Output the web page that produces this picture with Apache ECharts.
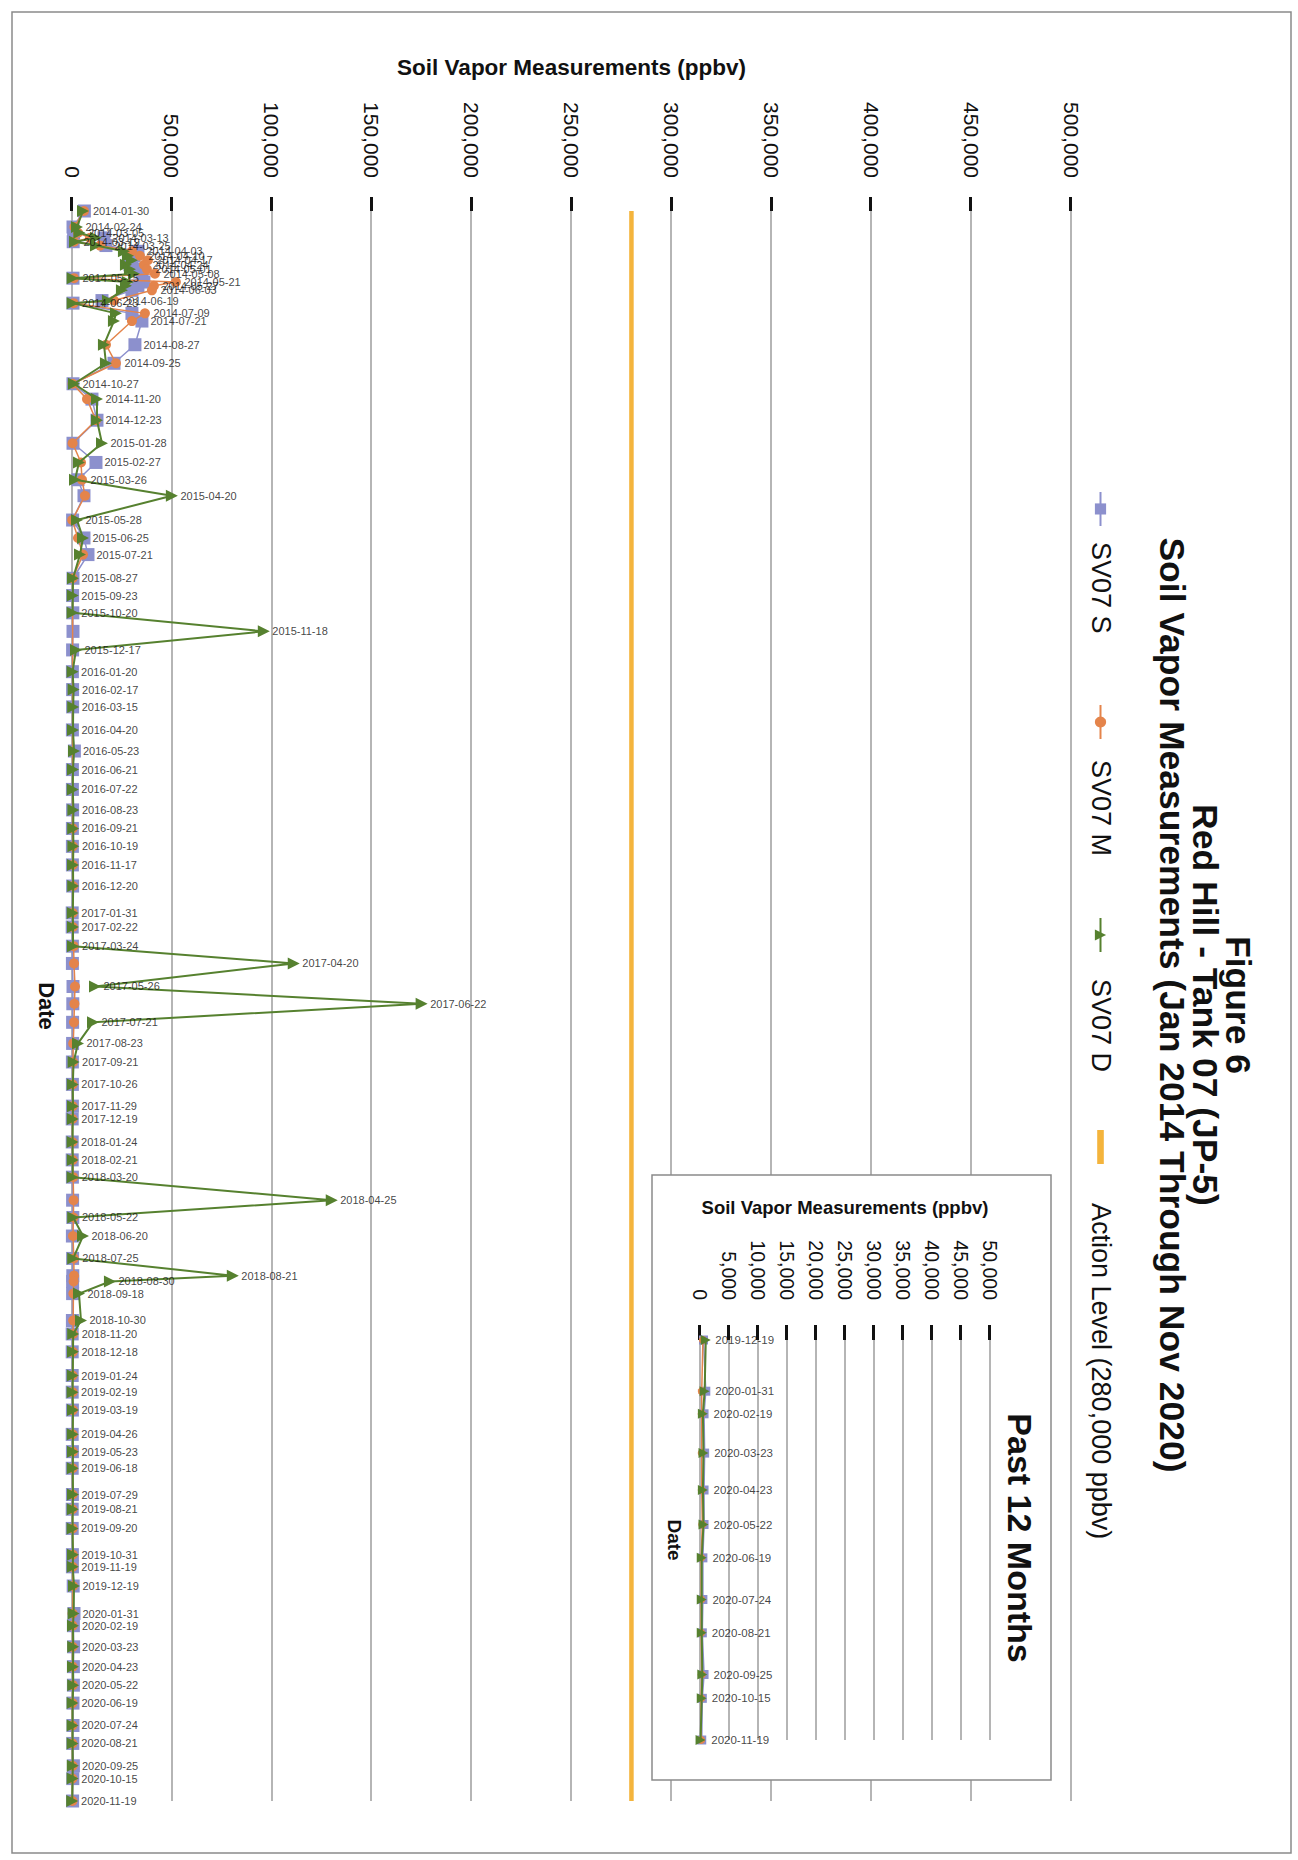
<!DOCTYPE html>
<html>
<head>
<meta charset="utf-8">
<script src="https://cdn.jsdelivr.net/npm/echarts@6/dist/echarts.min.js"></script>
<style>
html,body{margin:0;padding:0;background:#fff;overflow:hidden;width:1298px;height:1860px;}
#chart{position:absolute;left:0;top:0;width:1860px;height:1298px;transform-origin:0 0;transform:translate(1298px,0) rotate(90deg);}
</style>
</head>
<body>
<div id="chart"></div>
<script>
// ---- data (ppbv) ----
const dates = [
  '2014-01-30','2014-02-24','2014-03-05','2014-03-13','2014-03-19','2014-03-25','2014-04-03','2014-04-10','2014-04-17','2014-04-24','2014-05-01','2014-05-08','2014-05-15','2014-05-21','2014-05-27','2014-06-03','2014-06-19','2014-06-23','2014-07-09','2014-07-21','2014-08-27','2014-09-25','2014-10-27','2014-11-20','2014-12-23',
  '2015-01-28','2015-02-27','2015-03-26','2015-04-20','2015-05-28','2015-06-25','2015-07-21','2015-08-27','2015-09-23','2015-10-20','2015-11-18','2015-12-17',
  '2016-01-20','2016-02-17','2016-03-15','2016-04-20','2016-05-23','2016-06-21','2016-07-22','2016-08-23','2016-09-21','2016-10-19','2016-11-17','2016-12-20',
  '2017-01-31','2017-02-22','2017-03-24','2017-04-20','2017-05-26','2017-06-22','2017-07-21','2017-08-23','2017-09-21','2017-10-26','2017-11-29','2017-12-19',
  '2018-01-24','2018-02-21','2018-03-20','2018-04-25','2018-05-22','2018-06-20','2018-07-25','2018-08-21','2018-08-30','2018-09-18','2018-10-30','2018-11-20','2018-12-18',
  '2019-01-24','2019-02-19','2019-03-19','2019-04-26','2019-05-23','2019-06-18','2019-07-29','2019-08-21','2019-09-20','2019-10-31','2019-11-19','2019-12-19',
  '2020-01-31','2020-02-19','2020-03-23','2020-04-23','2020-05-22','2020-06-19','2020-07-24','2020-08-21','2020-09-25','2020-10-15','2020-11-19'
];
const sv07S = [
  6200, 500, 800, 16000, 600, 17000, 33000, 31000, 30000, 29000, 33000, 35000, 500, 36000, 33000, 30000, 15000, 500, 30000, 35000, 31500, 21000, 500, 10000, 12500,
  500, 12000, 3000, 6000, 300, 6000, 8000, 500, 300, 400, 500, 300,
  200, 300, 300, 200, 1200, 200, 200, 300, 200, 200, 200, 300,
  100, 100, 200, 200, 500, 400, 300, 300, 200, 200, 200, 100,
  100, 100, 200, 300, 400, 200, 300, 400, 300, 300, 200, 100, 100,
  100, 100, 200, 100, 200, 100, 200, 100, 100, 200, 200, 600,
  1000, 700, 800, 700, 700, 500, 500, 400, 700, 400, 300
];
const sv07M = [
  6000, 1200, 3000, 9000, 1000, 14000, 30000, 34000, 38000, 36000, 37500, 41500, 1000, 52000, 41000, 40000, 21000, 800, 36500, 30000, 17000, 22000, 300, 7500, 12000,
  300, 4500, 5000, 6500, 100, 3000, 5500, 300, null, null, null, null,
  null, null, null, null, null, null, null, null, 300, 400, 400, 500,
  300, 400, 800, 1000, 1500, 1200, 1000, 600, 500, 300, 300, 200,
  200, 300, 600, 800, 700, 500, 900, 1000, 800, 700, 600, 500, 400,
  300, 300, 400, 300, 400, 300, 300, 200, 300, 400, 300, 500,
  300, 300, 300, 300, 400, 200, 200, 200, 300, 200, 200
];
const sv07D = [
  5500, 2500, 3700, 12000, 1500, 12000, 26000, 28000, 30000, 27000, 29000, 31000, 300, 28000, 27000, 25000, 18000, 300, 22000, 21000, 16000, 17000, 1000, 12500, 12500,
  15000, 3500, 1500, 50000, 2500, 5500, 4000, 500, 400, 300, 96000, 2000,
  300, 800, 600, 500, 1000, 500, 400, 700, 600, 700, 500, 600,
  400, 500, 500, 111000, 11500, 175000, 10500, 3000, 800, 400, 500, 400,
  300, 400, 300, 130000, 600, 5500, 600, 80500, 19000, 3500, 4500, 600, 500,
  400, 300, 500, 400, 500, 400, 500, 400, 300, 500, 400, 1000,
  800, 500, 600, 500, 600, 300, 300, 300, 400, 300, 100
];
const actionLevel = 280000;
const insetFrom = '2019-12-19';
const mainTickLabels = ['0','50,000','100,000','150,000','200,000','250,000','300,000','350,000','400,000','450,000','500,000'];
const insetTickLabels = ['0','5,000','10,000','15,000','20,000','25,000','30,000','35,000','40,000','45,000','50,000'];
const seriesNames = ['SV07 S','SV07 M','SV07 D','Action Level (280,000 ppbv)'];

// ---- build ----
const FONT = '"Liberation Sans", Arial, Helvetica, sans-serif';
const C_S = '#8C90CD', C_M = '#E4844B', C_D = '#56812F', C_A = '#F4B43C';
const lastDate = dates[dates.length - 1];
const allIdx = dates.map((_, i) => i);
const insetIdx = allIdx.filter(i => dates[i] >= insetFrom);
const toPairs = (idx, arr) => idx.map(i => [dates[i], arr[i]]);
const maxAt = i => Math.max(...[sv07S[i], sv07M[i], sv07D[i]].filter(v => v != null));
const labelPairs = idx => idx.map(i => [dates[i], maxAt(i)]);

function lineSeries(name, arr, idx, ax, sym, size, color, width, z) {
  return {
    type: 'line', name, xAxisIndex: ax, yAxisIndex: ax, data: toPairs(idx, arr),
    symbol: sym, symbolSize: size, showSymbol: true, showAllSymbol: true, connectNulls: true,
    lineStyle: { color, width }, itemStyle: { color }, z, animation: false, silent: true
  };
}
function labelSeries(idx, ax, fs, dist, z) {
  return {
    type: 'scatter', name: 'labels', xAxisIndex: ax, yAxisIndex: ax, data: labelPairs(idx),
    symbolSize: 1, itemStyle: { color: 'rgba(0,0,0,0)' }, z, silent: true, animation: false,
    label: { show: true, formatter: p => p.value[0], position: 'top', distance: dist, rotate: 90,
      align: 'left', verticalAlign: 'middle', fontFamily: FONT, fontSize: fs, color: '#111' }
  };
}
function valueAxis(grid, max, interval, labels, o) {
  return {
    type: 'value', gridIndex: grid, min: 0, max, interval, z: o.z,
    axisLine: { show: false },
    axisTick: { show: true, length: o.tick, lineStyle: { color: '#111', width: 3 } },
    axisLabel: { margin: o.margin, fontSize: o.fs, fontFamily: FONT, color: '#111',
      formatter: v => labels[Math.round(v / interval)] },
    splitLine: { show: true, lineStyle: { color: '#9c9c9c', width: 1.5 } },
    name: 'Soil Vapor Measurements (ppbv)', nameLocation: 'middle', nameGap: o.gap,
    nameTextStyle: { fontFamily: FONT, fontSize: o.nfs, fontWeight: 'bold', color: '#111' }
  };
}
function timeAxis(grid, min, gap, fs, z) {
  return {
    type: 'time', gridIndex: grid, min, max: lastDate, z,
    axisLine: { show: false }, axisTick: { show: false }, axisLabel: { show: false }, splitLine: { show: false },
    name: 'Date', nameLocation: 'middle', nameGap: gap,
    nameTextStyle: { fontFamily: FONT, fontSize: fs, fontWeight: 'bold', color: '#111' }
  };
}
function legendItem(k, left, pad, extra) {
  return {
    data: [Object.assign({ name: seriesNames[k] }, extra || {})],
    left, top: 184, padding: 0, itemWidth: 34, itemHeight: 14,
    selectedMode: false, symbolKeepAspect: true,
    textStyle: { fontFamily: FONT, fontSize: 27, color: '#111', padding: [0, 0, 0, pad] }
  };
}

const option = {
  backgroundColor: '#fff',
  animation: false,
  title: [
    { text: 'Figure 6\nRed Hill - Tank 07 (JP-5)\nSoil Vapor Measurements (Jan 2014 Through Nov 2020)',
      left: 1005, top: 44, textAlign: 'center', padding: 0,
      textStyle: { fontFamily: FONT, fontSize: 35.5, fontWeight: 'bold', lineHeight: 33, color: '#111' } },
    { text: 'Past 12 Months', left: 1538, top: 261, textAlign: 'center', padding: 0, z: 8,
      textStyle: { fontFamily: FONT, fontSize: 34, fontWeight: 'bold', color: '#111' } }
  ],
  legend: [
    legendItem(0, 491, 11),
    legendItem(1, 704, 16),
    legendItem(2, 917, 22),
    legendItem(3, 1130, 34, { icon: 'path://M0,0H36V7H0Z', itemStyle: { color: C_A } })
  ],
  grid: [
    { left: 211, top: 227, width: 1590, height: 999 },
    { left: 1340, top: 308, width: 400, height: 290 }
  ],
  xAxis: [ timeAxis(0, dates[0], 15, 22, 0), timeAxis(1, insetFrom, 16, 19, 5) ],
  yAxis: [
    valueAxis(0, 500000, 50000, mainTickLabels, { z: 0, tick: 14, margin: 33, fs: 21, gap: 132, nfs: 22.5 }),
    valueAxis(1, 50000, 5000, insetTickLabels, { z: 5, tick: 15, margin: 40, fs: 19.5, gap: 123, nfs: 18.5 })
  ],
  graphic: [
    { type: 'rect', z: 3, silent: true, shape: { x: 1175, y: 247, width: 605, height: 399 },
      style: { fill: '#fff', stroke: '#8a8a8a', lineWidth: 1.5 } },
    { type: 'rect', z: 20, silent: true, shape: { x: 12, y: 7, width: 1841, height: 1279 },
      style: { fill: 'none', stroke: '#8a8a8a', lineWidth: 1.5 } }
  ],
  series: [
    lineSeries(seriesNames[0], sv07S, allIdx, 0, 'rect', 13, C_S, 1.5, 2),
    lineSeries(seriesNames[1], sv07M, allIdx, 0, 'circle', 10, C_M, 1.5, 3),
    lineSeries(seriesNames[2], sv07D, allIdx, 0, 'triangle', 12, C_D, 2, 4),
    { type: 'line', name: seriesNames[3], xAxisIndex: 0, yAxisIndex: 0,
      data: [[dates[0], actionLevel], [lastDate, actionLevel]], symbol: 'none',
      lineStyle: { color: C_A, width: 4.5 }, itemStyle: { color: C_A }, z: 2, silent: true, animation: false },
    labelSeries(allIdx, 0, 11, 8, 5),
    lineSeries(seriesNames[0], sv07S, insetIdx, 1, 'rect', 9, C_S, 1.5, 6),
    lineSeries(seriesNames[1], sv07M, insetIdx, 1, 'circle', 8, C_M, 1.5, 7),
    lineSeries(seriesNames[2], sv07D, insetIdx, 1, 'triangle', 10, C_D, 2, 8),
    labelSeries(insetIdx, 1, 11.5, 9, 9)
  ]
};

const chart = echarts.init(document.getElementById('chart'), null, { renderer: 'svg', width: 1860, height: 1298 });
chart.setOption(option);
</script>
</body>
</html>
